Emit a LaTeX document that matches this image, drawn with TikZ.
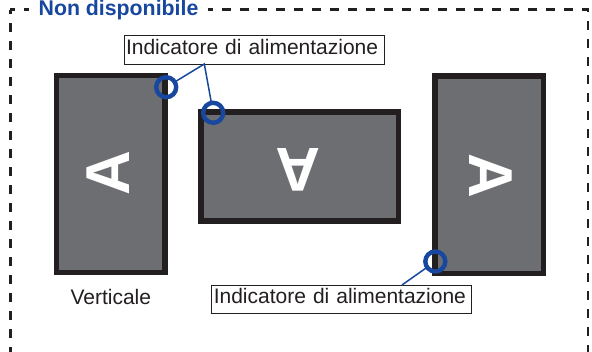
\documentclass[tikz,border=0pt]{standalone}
\usepackage{fontspec}
\setmainfont{Liberation Sans}
\definecolor{ablue}{HTML}{17479E}
\definecolor{adark}{HTML}{231F20}
\definecolor{agrey}{HTML}{6D6E71}
\tikzset{
  monitor/.style={draw=adark,fill=agrey,line width=5.3pt,inner sep=0pt,outer sep=0pt},
  letter/.style={text=white,font=\fontsize{62}{62}\selectfont\bfseries,inner sep=0pt},
  callout/.style={draw=adark,fill=white,line width=0.9pt,inner xsep=2pt,inner ysep=0pt,outer sep=0pt,
    minimum width=260pt,minimum height=28.6pt,text width=256pt,align=left,text height=9pt,text depth=0pt,
    text=adark,font=\fontsize{21}{21}\selectfont,anchor=west},
  marker/.style={circle,draw=ablue,line width=4.4pt,minimum size=20pt,inner sep=0pt,outer sep=0pt},
  leader/.style={draw=ablue,line width=1.5pt},
  plain/.style={text=adark,font=\fontsize{21}{21}\selectfont,inner sep=0pt,anchor=base},
  title/.style={text=ablue,fill=white,font=\fontsize{21.3}{22}\selectfont\bfseries,inner xsep=10pt,inner ysep=0pt,anchor=base,text height=13pt,text depth=2pt},
  border/.style={adark,line width=2.2pt,dash pattern=on 9pt off 9pt,dash phase=4.5pt}
}
\begin{document}
\begin{tikzpicture}[x=1pt,y=-1pt]
\useasboundingbox[clip] (0,0) rectangle (592,352);
\fill[white] (0,0) rectangle (592,352);
\draw[border] (10.4,9.6) -- (588,9.6) -- (588,370);
\draw[border] (10.4,9.6) -- (10.4,370);
\node[title] (head) at (118.5,15.6) {Non disponibile};
\node[monitor,minimum width=108.7pt,minimum height=197.3pt] (m1) at (110.7,174) {};
\node[monitor,minimum width=197.7pt,minimum height=109pt] (m2) at (299.8,166.5) {};
\node[monitor,minimum width=108.7pt,minimum height=197.4pt] (m3) at (489.3,174.7) {};
\node[letter,rotate=90] (a1) at (107.8,173.3) {A};
\node[letter,rotate=180] (a2) at (298,170.3) {A};
\node[letter,rotate=-90] (a3) at (490.5,176) {A};
\node[callout] (c1) at (124,49.7) {Indicatore di alimentazione};
\node[callout] (c2) at (211.8,299.3) {Indicatore di alimentazione};
\node[plain] (v) at (110.8,305) {Verticale};
\node[marker] (p1) at (166.2,87.2) {};
\node[marker] (p2) at (213.2,112.8) {};
\node[marker] (p3) at (435.3,261.5) {};
\coordinate (j1) at (204.3,64);
\coordinate (j2) at (402,285);
\draw[leader] (p1) -- (j1) -- (p2);
\draw[leader] (p3) -- (j2);
\end{tikzpicture}
\end{document}
